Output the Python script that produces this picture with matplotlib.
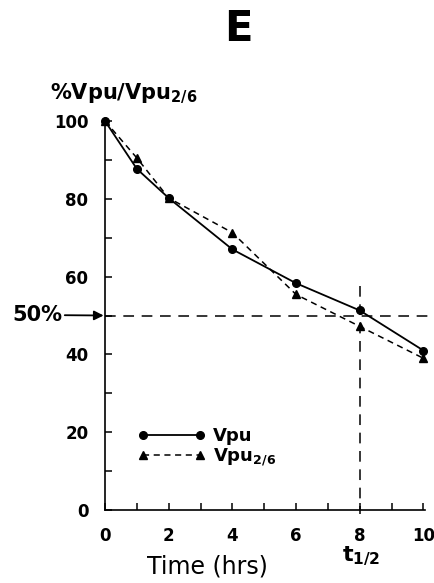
import matplotlib.pyplot as plt

# data
time_vpu = [0, 1, 2, 4, 6, 8, 10]
vpu = [100, 87.7, 80.2, 67, 58.3, 51.3, 41]
time_vpu26 = [0, 1, 2, 4, 6, 8, 10]
vpu26 = [100, 90.5, 80.2, 71.3, 55.4, 47.2, 39]
half_level = 50
t_half = 8

plt.rcParams['font.family'] = ['DejaVu Sans']

fig = plt.figure(figsize=(4.35, 5.83), dpi=100)
ax = fig.add_axes([105 / 435, 1 - 510 / 583, 320 / 435, 389 / 583])

ax.plot(time_vpu, vpu, color='black', lw=1.3, marker='o', ms=5.5, label='Vpu', clip_on=False, zorder=3)
ax.plot(time_vpu26, vpu26, color='black', lw=1.1, ls=(0, (4, 3)), marker='^', ms=6,
        label='Vpu$_{\\mathbf{2/6}}$', clip_on=False, zorder=3)

# 50% reference line and t1/2 marker
ax.plot([0, 10.4], [half_level, half_level], color='black', lw=1.1, ls=(0, (7, 5)), clip_on=False)
ax.plot([t_half, t_half], [57.5, -1], color='black', lw=1.1, ls=(0, (7, 5)), clip_on=False)

ax.set_xlim(0, 10.05)
ax.set_ylim(0, 100)
ax.spines['top'].set_visible(False)
ax.spines['right'].set_visible(False)
ax.spines['left'].set_linewidth(1.2)
ax.spines['bottom'].set_linewidth(1.2)

ax.set_xticks([0, 2, 4, 6, 8, 10])
ax.set_xticks([1, 3, 5, 7, 9], minor=True)
ax.set_yticks([0, 20, 40, 60, 80, 100])
ax.set_yticks([10, 30, 50, 70, 90], minor=True)
ax.tick_params(which='both', direction='in', length=5, width=1.1)
ax.tick_params(axis='x', pad=12, labelsize=12)
ax.tick_params(axis='y', pad=12, labelsize=12)
for lab in ax.get_xticklabels() + ax.get_yticklabels():
    lab.set_fontweight('bold')

ax.set_xlabel('Time (hrs)', fontsize=17)
ax.xaxis.set_label_coords(0.32, -0.115)

leg = ax.legend(loc='upper left', bbox_to_anchor=(0.05, 0.255), numpoints=2, handlelength=3.8,
                frameon=False, prop={'weight': 'bold', 'size': 13}, handletextpad=0.4,
                labelspacing=0.05)

ax.text(8.05, -9.0, 't$_{\\mathbf{1/2}}$', fontsize=16, fontweight='bold', ha='center', va='top')

fig.text(0.547, 0.95, 'E', fontsize=30, fontweight='bold', ha='center', va='center')
fig.text(50 / 435, 1 - 99 / 583, '%Vpu/Vpu$_{\\mathbf{2/6}}$', fontsize=15, fontweight='bold',
         ha='left', va='baseline')

ax.annotate('50%', xy=(0, half_level), xycoords='data', xytext=(12, 583 - 315),
            textcoords='figure pixels', fontsize=15, fontweight='bold',
            ha='left', va='center',
            arrowprops=dict(arrowstyle='-|>', color='black', lw=1.3, shrinkA=0, shrinkB=1,
                            mutation_scale=14))

fig.savefig('out.png', dpi=100)
